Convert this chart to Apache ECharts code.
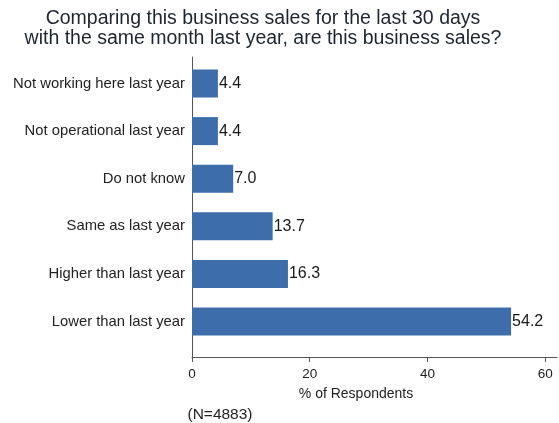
<!DOCTYPE html>
<html>
<head>
<meta charset="utf-8">
<script src="https://cdn.jsdelivr.net/npm/echarts@6/dist/echarts.min.js"></script>
<style>html,body{margin:0;padding:0;background:#fff;}#c{width:559px;height:423px;}</style>
</head>
<body>
<div id="c"></div>
<script>
const categories = ['Lower than last year','Higher than last year','Same as last year','Do not know','Not operational last year','Not working here last year'];
const values = [54.2, 16.3, 13.7, 7.0, 4.4, 4.4];
const xTicks = [0, 20, 40, 60];
const titleText = 'Comparing this business sales for the last 30 days\nwith the same month last year, are this business sales?';
const xName = '% of Respondents';
const note = '(N=4883)';

const font = 'Arial, "Liberation Sans", Helvetica, sans-serif';
const chart = echarts.init(document.getElementById('c'), null, {renderer: 'canvas'});
chart.setOption({
  animation: false,
  backgroundColor: '#fff',
  title: [
    {text: titleText, left: 258, top: 4, textAlign: 'center',
     textStyle: {fontFamily: font, fontSize: 19.5, fontWeight: 'normal', color: '#1e2430', lineHeight: 20, align: 'center'}},
    {text: xName, left: 351, top: 382, textAlign: 'center',
     textStyle: {fontFamily: font, fontSize: 14, fontWeight: 'normal', color: '#222'}},
    {text: note, left: 215, top: 402, textAlign: 'center',
     textStyle: {fontFamily: font, fontSize: 15.5, fontWeight: 'normal', color: '#222'}}
  ],
  grid: [
    {left: 192, right: 2, top: 59.7, bottom: 77.7, containLabel: false},
    {left: 192, right: 2, top: 57, bottom: 66, containLabel: false}
  ],
  xAxis: [
    {type: 'value', gridIndex: 0, min: 0, max: 62, offset: 11.7,
     axisLine: {show: true, lineStyle: {color: '#555', width: 1}},
     axisTick: {show: true, length: 5, customValues: xTicks, lineStyle: {color: '#555'}},
     axisLabel: {customValues: xTicks, margin: 10, fontFamily: font, fontSize: 13.5, color: '#222'},
     splitLine: {show: false}},
    {type: 'value', gridIndex: 1, show: false, min: 0, max: 1}
  ],
  yAxis: [
    {type: 'category', gridIndex: 0, data: categories,
     axisLine: {show: false}, axisTick: {show: false},
     axisLabel: {margin: 7, fontFamily: font, fontSize: 14.8, color: '#222'}},
    {type: 'value', gridIndex: 1, min: 0, max: 1,
     axisLine: {show: true, lineStyle: {color: '#555', width: 1}},
     axisTick: {show: false}, axisLabel: {show: false}, splitLine: {show: false}}
  ],
  series: [{
    type: 'bar', xAxisIndex: 0, yAxisIndex: 0, data: values, barWidth: 28,
    itemStyle: {color: '#3d6eab'},
    label: {show: true, position: 'right', distance: 1, fontFamily: font, fontSize: 16, color: '#1a1a1a',
            formatter: p => p.value.toFixed(1)}
  }]
});
</script>
</body>
</html>
